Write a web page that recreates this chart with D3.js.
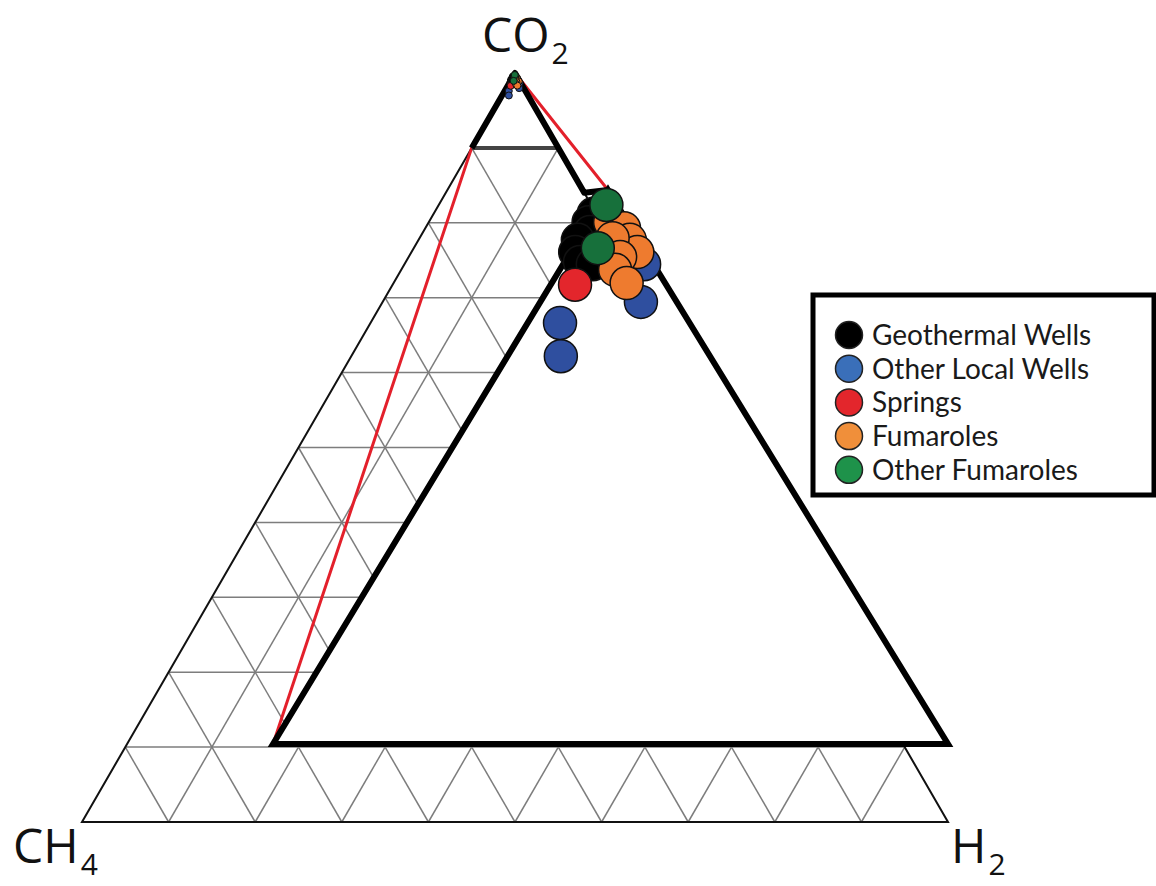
<!DOCTYPE html>
<html>
<head>
<meta charset="utf-8">
<script src="https://cdn.jsdelivr.net/npm/d3@7"></script>
<style>
  body { margin: 0; background: #fff; }
  svg { display: block; font-family: "Open Sans", "Noto Sans", sans-serif; }
</style>
</head>
<body>
<div id="chart"></div>
<script>
'use strict';

// gas compositions, [CO2, CH4, H2] in %
var geothermalWells = [[99.57, 0.43, 0], [99.42, 0.58, 0], [99.24, 0.65, 0.11], [99.10, 0.90, 0],
                       [98.88, 1.05, 0.07], [98.70, 1.07, 0.23], [98.66, 0.90, 0.44]];
var otherLocalWells = [[97.60, 1.92, 0.48], [97.00, 2.21, 0.79], [97.98, 0.53, 1.49], [98.66, 0.14, 1.20]];
var springs = [[98.29, 1.35, 0.36]];
var fumaroles = [[99.42, 0.26, 0.32], [99.31, 0.11, 0.58], [99.10, 0.13, 0.77], [98.88, 0.13, 0.99],
                 [99.13, 0.37, 0.50], [98.79, 0.43, 0.78], [98.56, 0.62, 0.82], [98.32, 0.57, 1.11]];
var otherFumaroles = [[99.73, 0.16, 0.11], [98.95, 0.68, 0.37]];

var seriesNames = ['Geothermal Wells', 'Other Local Wells', 'Springs', 'Fumaroles', 'Other Fumaroles'];
var seriesData = [geothermalWells, otherLocalWells, springs, fumaroles, otherFumaroles];
var seriesColors = ['#000000', '#2f4f9f', '#e3262c', '#ee7b2f', '#17703b'];
var legendColors = ['#000000', '#3a6fb9', '#e3262c', '#f08f3a', '#1e924a'];

var gridSteps = d3.range(1, 10).map(function (k) { return k / 10; });
var zoomFloor = 90;   // the inset shows 90-100 % CO2
// hand drawn inset triangle, in plot units [across, up]
var insetApex = [0.6074, 0.8438],
    insetLeft = [0.2206, 0.1041],
    insetRight = [1.0, 0.1041];

var width = 1156, height = 886;
var svg = d3.select('#chart').append('svg')
    .attr('width', width)
    .attr('height', height);

var x = d3.scaleLinear().domain([0, 1]).range([82, 948]),
    y = d3.scaleLinear().domain([0, 1]).range([822, 73]);

function tern(d) {
    var s = d[0] + d[1] + d[2],
        c = d[0] / s,
        h = d[2] / s;
    return [x(h + c / 2), y(c)];
}
function plot(p) { return [x(p[0]), y(p[1])]; }
function inset(d) {
    var a = (d[0] - zoomFloor), b = d[1], c = d[2], s = a + b + c;
    var A = plot(insetApex), L = plot(insetLeft), R = plot(insetRight);
    a /= s; b /= s; c /= s;
    return [a * A[0] + b * L[0] + c * R[0], a * A[1] + b * L[1] + c * R[1]];
}
var line = d3.line();

// grid
var grid = [];
gridSteps.forEach(function (t) {
    grid.push([tern([t, 1 - t, 0]), tern([t, 0, 1 - t])]);
    grid.push([tern([0, t, 1 - t]), tern([1 - t, t, 0])]);
    grid.push([tern([0, 1 - t, t]), tern([1 - t, 0, t])]);
});
svg.append('g').selectAll('path').data(grid).enter().append('path')
    .attr('d', line)
    .attr('fill', 'none')
    .attr('stroke', '#7d7d7d')
    .attr('stroke-width', 1.5);

// outer triangle
var outer = [tern([100, 0, 0]), tern([0, 100, 0]), tern([0, 0, 100])];
svg.append('path')
    .attr('d', line(outer) + 'Z')
    .attr('fill', 'none')
    .attr('stroke', '#111')
    .attr('stroke-width', 2);

// red lines tying the 90-100 % corner to the inset
svg.append('path')
    .attr('d', line([plot(insetApex), tern([100, 0, 0]), tern([90, 10, 0]), plot(insetLeft)]))
    .attr('fill', 'none')
    .attr('stroke', '#e3202b')
    .attr('stroke-width', 3);

// inset, white over the grid
svg.append('path')
    .attr('d', line([plot(insetApex), plot(insetRight), plot(insetLeft)]) + 'Z')
    .attr('fill', '#fff')
    .attr('stroke', '#000')
    .attr('stroke-width', 6)
    .attr('stroke-linejoin', 'miter');

// small corner triangle
svg.append('path')
    .attr('d', line([tern([90, 10, 0]), tern([90, 0, 10])]))
    .attr('stroke', '#444')
    .attr('stroke-width', 4);
svg.append('path')
    .attr('d', line([tern([90, 10, 0]), tern([100, 0, 0]), tern([84, 0, 16]), plot(insetApex)]))
    .attr('fill', 'none')
    .attr('stroke', '#000')
    .attr('stroke-width', 6)
    .attr('stroke-linejoin', 'round');

// samples: true position near the apex, and in the inset
var groups = svg.append('g').selectAll('g').data(seriesData).enter().append('g');
groups.selectAll('circle.small').data(function (d) { return d; }).enter().append('circle')
    .attr('class', 'small')
    .attr('cx', function (d) { return tern(d)[0]; })
    .attr('cy', function (d) { return tern(d)[1]; })
    .attr('r', 3.5)
    .attr('fill', function () { return seriesColors[seriesData.indexOf(d3.select(this.parentNode).datum())]; })
    .attr('stroke', '#111')
    .attr('stroke-width', 1);
groups.selectAll('circle.big').data(function (d) { return d; }).enter().append('circle')
    .attr('class', 'big')
    .attr('cx', function (d) { return inset(d)[0]; })
    .attr('cy', function (d) { return inset(d)[1]; })
    .attr('r', 16.5)
    .attr('fill', function () { return seriesColors[seriesData.indexOf(d3.select(this.parentNode).datum())]; })
    .attr('stroke', '#111')
    .attr('stroke-width', 1.5);

// corner labels
var labels = [
    {txt: 'CO', sub: '2', at: tern([100, 0, 0]), dx: -33, dy: -21},
    {txt: 'CH', sub: '4', at: tern([0, 100, 0]), dx: -69, dy: 41},
    {txt: 'H', sub: '2', at: tern([0, 0, 100]), dx: 3, dy: 41}
];
labels.forEach(function (l) {
    var t = svg.append('text')
        .attr('x', l.at[0] + l.dx)
        .attr('y', l.at[1] + l.dy)
        .attr('font-size', 48)
        .attr('fill', '#111')
        .text(l.txt);
    t.append('tspan')
        .attr('font-size', 30)
        .attr('dy', 12)
        .attr('dx', 2)
        .text(l.sub);
});

// legend
var legend = svg.append('g');
legend.append('rect')
    .attr('x', 813).attr('y', 295)
    .attr('width', 341).attr('height', 200)
    .attr('fill', '#fff')
    .attr('stroke', '#000')
    .attr('stroke-width', 5);
var items = legend.selectAll('g.item').data(seriesNames).enter().append('g')
    .attr('class', 'item')
    .attr('transform', function (d, i) { return 'translate(849,' + (335 + i * 33.7) + ')'; });
items.append('circle')
    .attr('r', 13.5)
    .attr('fill', function (d, i) { return legendColors[i]; })
    .attr('stroke', '#222')
    .attr('stroke-width', 1.5);
items.append('text')
    .attr('x', 23)
    .attr('dy', '0.36em')
    .attr('font-family', 'Lato, "Open Sans", sans-serif')
    .attr('font-size', 28)
    .attr('fill', '#1a1a1a')
    .text(function (d) { return d; });
</script>
</body>
</html>
